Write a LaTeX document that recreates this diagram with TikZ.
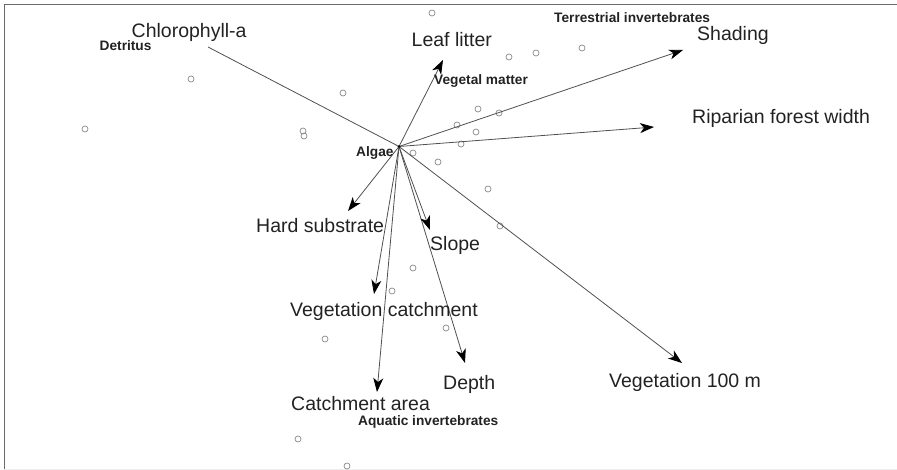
\documentclass[tikz,border=0pt]{standalone}
\usepackage{fontspec}
\setmainfont{Liberation Sans}
\usetikzlibrary{arrows.meta}
\definecolor{VecGray}{HTML}{505050}
\definecolor{SiteGray}{HTML}{8A8A8A}
\definecolor{LabDark}{HTML}{222222}
\definecolor{FrameGray}{HTML}{6A6A6A}
\definecolor{FrameLight}{HTML}{EEEEEE}

\begin{document}
\begin{tikzpicture}[x=1pt,y=-1pt,
 vector/.style={-{Stealth[length=14pt,width=10pt,inset=4pt,color=black]},line width=0.8pt,color=VecGray},
 varlabel/.style={inner sep=0pt,anchor=base west,font=\fontsize{19.5}{21}\selectfont,text=LabDark},
 grouplabel/.style={inner sep=0pt,anchor=base west,font=\fontsize{13.7}{15}\selectfont\bfseries,text=LabDark},
 site/.style={circle,draw=SiteGray,line width=0.7pt,inner sep=0pt,minimum size=6pt}
]
\useasboundingbox (0,0) rectangle (897,470);
% frame
\draw[FrameGray,line width=1.3pt] (4.3,470) -- (4.3,4.3) -- (897,4.3);
\draw[FrameLight,line width=1pt] (4.3,469) -- (897,469);

% sites
\foreach \sx/\sy [count=\i] in {432/13,191/79,343/93,85/129,303/131,304/136,509/57,536/53,582/48,
  478/109,499/113,457/125,476/132,461/144,413/153,438/162,488/189,500/226,
  413/268,392/291,446/328,325/339,298/439,347/466}
  \node[site] (s\i) at (\sx,\sy) {};

% vectors
\coordinate (o) at (399,146.5);
\coordinate (chla) at (208,47);
\coordinate (leaf) at (443,60);
\coordinate (shad) at (683,50);
\coordinate (ripa) at (654,127);
\coordinate (veg100) at (682,363);
\coordinate (depth) at (465,363);
\coordinate (slope) at (430,230);
\coordinate (hard) at (348,211);
\coordinate (vegcat) at (374,294);
\coordinate (catch) at (377,392);
\draw[line width=0.8pt,color=VecGray] (o) -- (chla);
\foreach \v in {leaf,shad,ripa,veg100,depth,slope,hard,vegcat,catch}
  \draw[vector] (o) -- (\v);
\fill[black] (o) circle (1.3);

% environmental variables
\node[varlabel] (lchla) at (131.5,38) {Chlorophyll-a};
\node[varlabel] (lleaf) at (411.5,47) {Leaf litter};
\node[varlabel] (lshad) at (697,41) {Shading};
\node[varlabel] (lripa) at (692,124) {Riparian forest width};
\node[varlabel] (lveg100) at (609,387) {Vegetation 100 m};
\node[varlabel] (ldepth) at (443,389) {Depth};
\node[varlabel] (lslope) at (430,251) {Slope};
\node[varlabel] (lhard) at (256,233) {Hard substrate};
\node[varlabel] (lvegcat) at (290,317) {Vegetation catchment};
\node[varlabel] (lcatch) at (291,410) {Catchment area};

% food resources
\node[grouplabel] (ldetr) at (99.5,51) {Detritus};
\node[grouplabel] (lterr) at (554,23) {Terrestrial invertebrates};
\node[grouplabel] (lvegm) at (434,85) {Vegetal matter};
\node[grouplabel] (lalga) at (356,157) {Algae};
\node[grouplabel] (laqua) at (358,425) {Aquatic invertebrates};
\end{tikzpicture}
\end{document}
